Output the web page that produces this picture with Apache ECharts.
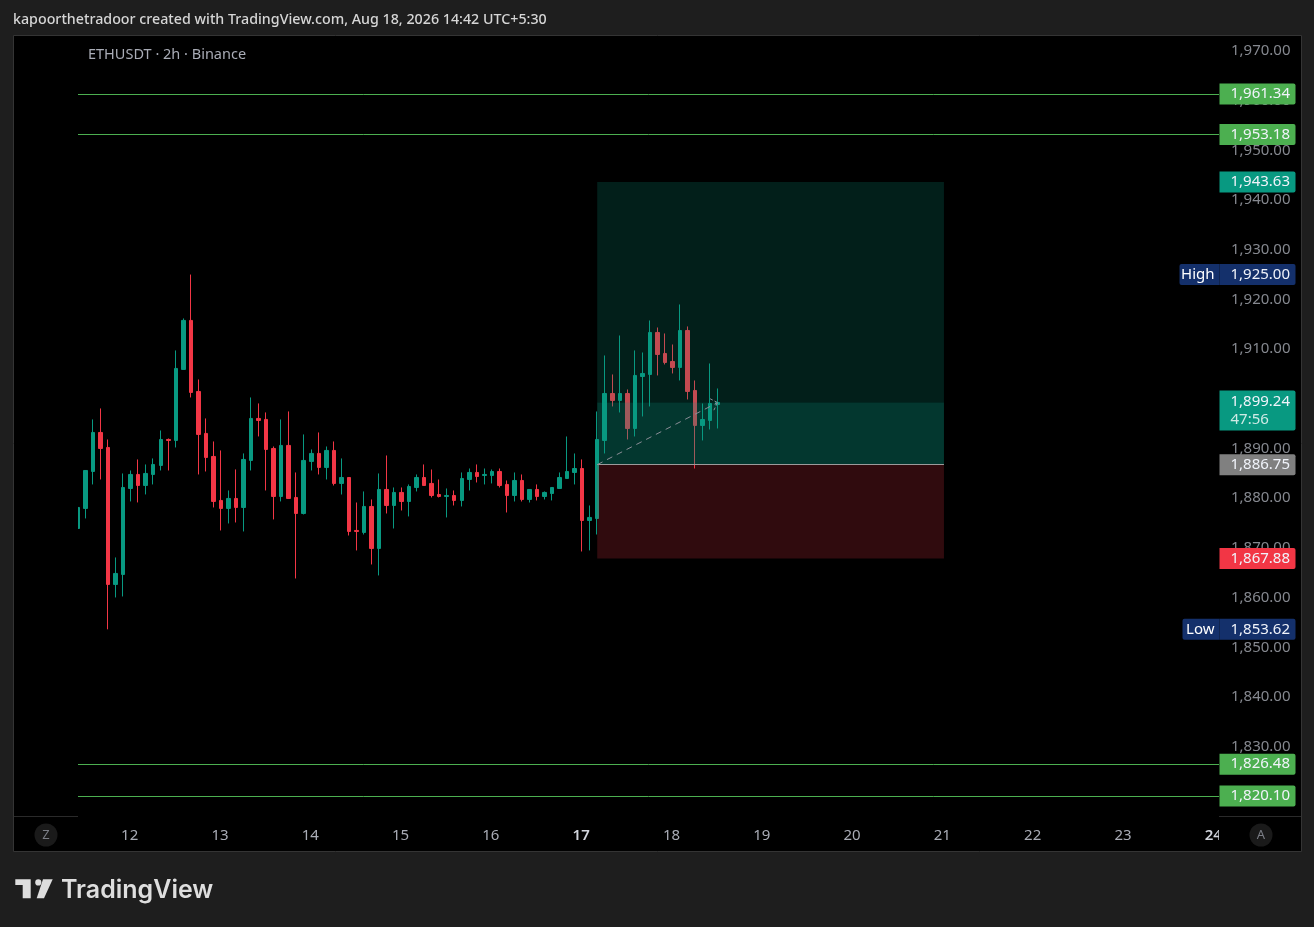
<!DOCTYPE html>
<html>
<head>
<meta charset="utf-8">
<title>ETHUSDT 2h</title>
<script src="https://cdn.jsdelivr.net/npm/echarts@6/dist/echarts.min.js"></script>
<style>
  html, body { margin: 0; padding: 0; background: #1e1e1e; }
  #chart { width: 1314px; height: 927px; }
</style>
</head>
<body>
<div id="chart"></div>
<script>
const opens = [1873.91,1877.94,1885.38,1893.23,1890.21,1862.65,1864.66,1881.96,1884.78,1882.57,1884.78,1886.59,1891.82,1891.62,1905.91,1915.77,1901.48,1893.03,1888.40,1879.55,1877.94,1879.95,1878.14,1887.60,1896.05,1895.85,1890.01,1880.35,1890.62,1880.15,1876.93,1887.40,1889.01,1886.19,1889.61,1882.97,1884.17,1873.51,1873.11,1878.34,1869.89,1881.76,1878.54,1881.16,1879.34,1882.16,1884.17,1882.97,1880.75,1880.35,1880.55,1879.55,1883.77,1885.18,1884.58,1884.58,1885.38,1882.77,1880.55,1883.57,1879.75,1881.76,1880.35,1880.95,1881.96,1883.97,1885.18,1885.98,1875.52,1875.92,1891.62,1901.07,1899.67,1901.07,1894.03,1904.49,1904.90,1913.35,1909.12,1907.51,1906.31,1913.75,1901.68,1894.64,1895.64,1898.86];
const closes = [1878.14,1885.58,1893.23,1890.01,1862.65,1864.86,1882.16,1884.78,1882.57,1884.98,1886.79,1891.82,1891.62,1906.11,1915.77,1901.28,1892.83,1888.20,1879.35,1877.94,1879.95,1878.14,1887.80,1896.05,1895.65,1889.81,1880.35,1890.62,1879.95,1876.93,1887.60,1889.01,1886.19,1889.61,1882.97,1884.17,1873.31,1873.31,1878.34,1869.89,1881.76,1878.54,1881.16,1879.34,1882.36,1884.17,1882.56,1880.55,1880.35,1880.55,1879.55,1883.97,1885.18,1884.37,1884.78,1885.38,1882.56,1880.55,1883.57,1879.75,1881.76,1880.35,1881.16,1882.16,1884.17,1885.38,1885.98,1875.52,1876.13,1891.82,1901.07,1899.67,1901.07,1894.03,1904.70,1905.10,1913.35,1908.92,1907.31,1906.31,1913.75,1901.48,1894.64,1895.84,1899.06,1899.24];
const lows = [1873.91,1875.93,1882.77,1883.77,1853.62,1860.03,1860.23,1879.35,1879.15,1880.76,1882.77,1885.58,1885.58,1890.21,1905.91,1900.27,1884.78,1885.38,1878.14,1873.51,1874.92,1875.12,1873.31,1885.58,1892.43,1881.56,1875.73,1879.35,1879.95,1863.85,1876.73,1885.58,1884.78,1883.77,1882.56,1880.75,1872.50,1869.49,1872.70,1866.67,1864.46,1876.93,1873.91,1877.53,1876.33,1881.36,1882.56,1880.15,1880.15,1876.13,1878.54,1878.34,1881.56,1883.17,1882.77,1882.97,1882.16,1877.13,1879.34,1879.34,1879.14,1879.55,1879.75,1879.55,1881.96,1883.97,1882.77,1869.28,1869.49,1872.70,1889.00,1898.46,1897.25,1891.82,1892.42,1896.45,1898.46,1904.70,1906.91,1905.10,1903.69,1899.87,1885.98,1891.62,1893.83,1894.03];
const highs = [1878.14,1885.58,1895.85,1898.06,1891.82,1868.08,1884.98,1885.58,1887.80,1886.79,1888.00,1893.63,1892.02,1909.73,1916.17,1925.00,1903.89,1896.05,1891.42,1889.61,1881.56,1885.79,1889.01,1900.27,1899.07,1897.26,1890.41,1895.85,1897.46,1885.18,1892.83,1889.81,1893.23,1890.41,1891.42,1888.00,1884.17,1879.14,1881.36,1879.75,1884.98,1888.60,1882.16,1882.16,1882.77,1884.78,1886.79,1885.78,1883.77,1881.96,1881.56,1885.18,1885.98,1886.79,1885.98,1885.78,1885.98,1883.57,1885.18,1884.78,1881.76,1882.77,1881.36,1882.16,1885.18,1892.42,1889.00,1887.80,1878.54,1897.45,1908.72,1904.90,1912.74,1901.88,1909.73,1909.32,1915.76,1914.35,1913.15,1910.93,1918.98,1914.56,1903.69,1899.06,1907.11,1902.08];

const dayLabels = [12,13,14,15,16,17,18,19,20,21,22,23,24];
const dayBars = [7,19,31,43,55,67,79,91,103,115,127,139,151];
const priceTicks = [1970,1960,1950,1940,1930,1920,1910,1900,1890,1880,1870,1860,1850,1840,1830,1820];

const levelPrices = [1961.34,1953.18,1826.48,1820.10];
const targetPrice = 1943.63;
const entryPrice = 1886.75;
const stopPrice = 1867.88;
const lastPrice = 1899.24;
const highPrice = 1925.00;
const lowPrice = 1853.62;
const countdown = '47:56';
const boxStartBar = 69;
const boxEndBar = 115.08;
const lastBar = 85;

const UP = '#089981';
const DOWN = '#f23645';
const LEVEL = '#4caf50';
const NAVY = '#14306b';
const FONT = '"Noto Sans", sans-serif';
const xMax = 151.63;

const fmt = v => v.toLocaleString('en-US', { minimumFractionDigits: 2, maximumFractionDigits: 2 });
const candles = opens.map((o, i) => [i, o, closes[i], lows[i], highs[i]]);

// one price tag on the right of the scale
function tag(price, color, text, extra) {
  return {
    coord: [xMax, price],
    symbol: 'rect',
    symbolSize: 1,
    itemStyle: { color: 'transparent' },
    label: Object.assign({
      show: true,
      position: 'right',
      distance: 0,
      formatter: text || fmt(price),
      backgroundColor: color,
      color: '#f0f3fa',
      fontFamily: FONT,
      fontSize: 15,
      lineHeight: 15,
      padding: [3, 4, 3, 11],
      width: 61,
      borderRadius: [0, 2, 2, 0],
    }, extra),
  };
}

function sideTag(price, text, width) {
  return {
    coord: [xMax, price],
    symbol: 'rect',
    symbolSize: 1,
    itemStyle: { color: 'transparent' },
    label: {
      show: true,
      position: 'left',
      distance: -1,
      formatter: text,
      backgroundColor: NAVY,
      color: '#ffffff',
      fontFamily: FONT,
      fontSize: 15,
      lineHeight: 15,
      padding: [3, 5, 3, 5],
      width: width,
      borderRadius: [2, 0, 0, 2],
    },
  };
}

const chart = echarts.init(document.getElementById('chart'));

const option = {
  animation: false,
  backgroundColor: '#1e1e1e',
  title: [
    {
      text: 'kapoorthetradoor created with TradingView.com, Aug 18, 2026 14:42 UTC+5:30',
      left: 13, top: 11, padding: 0,
      textStyle: { color: '#d6d6d6', fontFamily: FONT, fontSize: 14.25, fontWeight: 500, lineHeight: 18 },
    },
    {
      text: 'ETHUSDT · 2h · Binance',
      left: 88, top: 46, padding: 0,
      textStyle: { color: '#a9acb6', fontFamily: FONT, fontSize: 14.5, fontWeight: 400, lineHeight: 18 },
    },
  ],
  grid: { left: 78, top: 35, width: 1141, height: 781 },
  xAxis: {
    type: 'value',
    min: 0,
    max: xMax,
    splitLine: { show: false },
    axisLine: { show: false },
    axisTick: { show: false },
    axisLabel: {
      customValues: dayBars,
      margin: 12,
      padding: [0, 2, 0, 0],
      hideOverlap: false,
      showMinLabel: true,
      showMaxLabel: true,
      fontFamily: FONT,
      fontSize: 15,
      color: '#a9acb6',
      formatter: v => {
        const d = dayLabels[dayBars.indexOf(v)];
        return (d === 17 || d === 24) ? '{b|' + d + '}' : String(d);
      },
      rich: { b: { fontFamily: FONT, fontSize: 15, fontWeight: 600, color: '#d1d4dc' } },
    },
  },
  yAxis: {
    type: 'value',
    position: 'right',
    min: 1816.06,
    max: 1973.20,
    splitLine: { show: false },
    axisLine: { show: false },
    axisTick: { show: false },
    axisLabel: {
      customValues: priceTicks,
      margin: 12,
      fontFamily: FONT,
      fontSize: 15,
      color: '#85888f',
      padding: [0, 0, 7, 0],
      formatter: v => fmt(v),
    },
  },
  series: [
    {
      name: 'ETHUSDT',
      type: 'candlestick',
      data: candles,
      encode: { x: 0, y: [1, 2, 3, 4] },
      barWidth: 4,
      itemStyle: { color: UP, color0: DOWN, borderColor: UP, borderColor0: DOWN, borderWidth: 1 },
    },
    {
      name: 'Levels',
      type: 'line',
      data: [],
      silent: true,
      markLine: {
        silent: true,
        symbol: 'none',
        label: { show: false },
        lineStyle: { color: LEVEL, width: 1, type: 'solid' },
        data: levelPrices.map(p => ({ yAxis: p })),
      },
      markPoint: {
        silent: true,
        data: levelPrices.map(p => tag(p, LEVEL))
          .concat([
            tag(targetPrice, UP),
            tag(entryPrice, '#808080'),
            tag(stopPrice, DOWN),
            tag(highPrice, NAVY),
            tag(lowPrice, NAVY),
            sideTag(highPrice, 'High', 30),
            sideTag(lowPrice, 'Low', 27),
            tag(lastPrice, UP, fmt(lastPrice) + '\n{t|' + countdown + '}', {
              lineHeight: 18,
              padding: [2, 4, 2, 11],
              offset: [0, 8],
              rich: { t: { color: '#cfeae5', fontFamily: FONT, fontSize: 15, lineHeight: 18 } },
            }),
          ]),
      },
    },
    {
      name: 'Position',
      type: 'line',
      data: [],
      silent: true,
      markArea: {
        silent: true,
        z: 4,
        data: [
          [{ coord: [boxStartBar, targetPrice], itemStyle: { color: 'rgba(8,153,129,0.2)' } }, { coord: [boxEndBar, lastPrice] }],
          [{ coord: [boxStartBar, lastPrice], itemStyle: { color: 'rgba(8,153,129,0.36)' } }, { coord: [boxEndBar, entryPrice] }],
          [{ coord: [boxStartBar, entryPrice], itemStyle: { color: 'rgba(242,54,69,0.2)' } }, { coord: [boxEndBar, stopPrice] }],
        ],
      },
      markLine: {
        silent: true,
        symbol: 'none',
        label: { show: false },
        lineStyle: { color: '#8a8d96', width: 1, type: [6, 5] },
        data: [
          [{ coord: [boxStartBar, entryPrice], lineStyle: { color: '#9b9b9b', type: 'solid' } }, { coord: [boxEndBar, entryPrice] }],
          [{ coord: [boxStartBar, entryPrice] }, { coord: [lastBar, lastPrice] }],
          [{ coord: [84, 1900.01], lineStyle: { type: [3, 2] } }, { coord: [lastBar, lastPrice] }],
          [{ coord: [84.5, 1897.71], lineStyle: { type: [3, 2] } }, { coord: [lastBar, lastPrice] }],
        ],
      },
    },
  ],
  graphic: [
    // black pane with its frame
    { type: 'rect', z: -1, silent: true, shape: { x: 13.5, y: 35.5, width: 1288, height: 816 }, style: { fill: '#000', stroke: '#343434', lineWidth: 1 } },
    { type: 'line', silent: true, shape: { x1: 14, y1: 816.5, x2: 78, y2: 816.5 }, style: { stroke: '#2a2a2a', lineWidth: 1 } },
    { type: 'line', silent: true, shape: { x1: 1219, y1: 816.5, x2: 1301, y2: 816.5 }, style: { stroke: '#2a2a2a', lineWidth: 1 } },
    // pane starts at x=78, the first candle is cut there
    { type: 'rect', z: 3, silent: true, shape: { x: 70, y: 36, width: 8, height: 780 }, style: { fill: '#000' } },
    // scale edge cuts the last date label
    { type: 'rect', z: 10, silent: true, shape: { x: 1219, y: 822, width: 12, height: 26 }, style: { fill: '#000' } },
    { type: 'circle', silent: true, shape: { cx: 46, cy: 835, r: 11.5 }, style: { fill: '#1a1a1a' } },
    { type: 'text', silent: true, x: 46, y: 835, style: { text: 'Z', fill: '#7b7e86', font: '13px ' + FONT, align: 'center', verticalAlign: 'middle' } },
    { type: 'circle', silent: true, z: 11, shape: { cx: 1261, cy: 835, r: 11.5 }, style: { fill: '#1a1a1a' } },
    { type: 'text', silent: true, z: 12, x: 1261, y: 835, style: { text: 'A', fill: '#7b7e86', font: '13px ' + FONT, align: 'center', verticalAlign: 'middle' } },
    // footer logo
    { type: 'polygon', silent: true, shape: { points: [[15.3,879.3],[30.7,879.3],[30.7,898.3],[22.7,898.3],[22.7,885],[15.3,885]] }, style: { fill: '#dedede' } },
    { type: 'circle', silent: true, shape: { cx: 38.3, cy: 882.4, r: 3.1 }, style: { fill: '#dedede' } },
    { type: 'polygon', silent: true, shape: { points: [[43,879.3],[52.7,879.3],[44,898.3],[36.7,898.3]] }, style: { fill: '#dedede' } },
    { type: 'text', silent: true, x: 61, y: 890, style: { text: 'TradingView', fill: '#dedede', font: '600 25px Inter, ' + FONT, verticalAlign: 'middle' } },
  ],
};

chart.setOption(option);
</script>
</body>
</html>
